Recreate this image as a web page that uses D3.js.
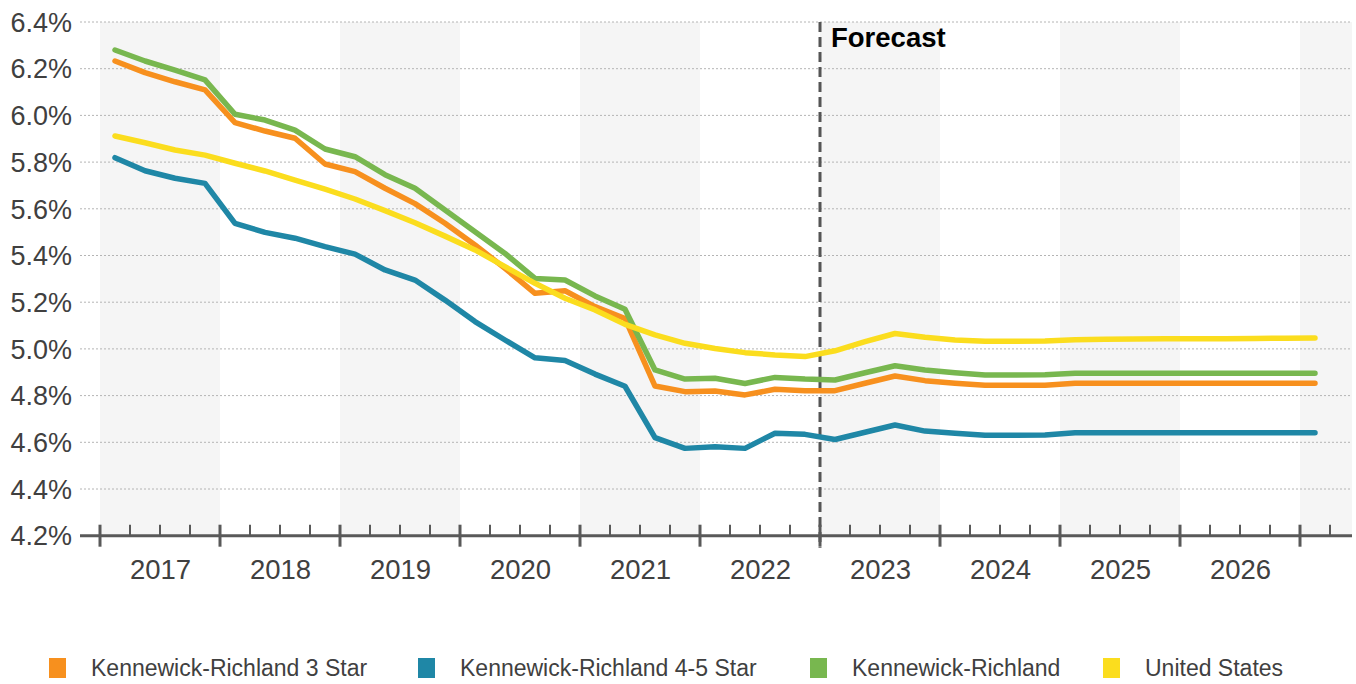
<!DOCTYPE html>
<html>
<head>
<meta charset="utf-8">
<script src="https://cdn.jsdelivr.net/npm/d3@7"></script>
<style>
  html, body { margin: 0; padding: 0; background: #fff; }
  svg { display: block; font-family: "Liberation Sans", Arial, sans-serif; }
</style>
</head>
<body>
<svg id="chart" width="1356" height="684"></svg>
<script>
// Quarterly cap rates, 2017 Q1 – 2027 Q1 (forecast from 2023 Q1)
const quarters = [
  "2017 Q1","2017 Q2","2017 Q3","2017 Q4","2018 Q1","2018 Q2","2018 Q3","2018 Q4",
  "2019 Q1","2019 Q2","2019 Q3","2019 Q4","2020 Q1","2020 Q2","2020 Q3","2020 Q4",
  "2021 Q1","2021 Q2","2021 Q3","2021 Q4","2022 Q1","2022 Q2","2022 Q3","2022 Q4",
  "2023 Q1","2023 Q2","2023 Q3","2023 Q4","2024 Q1","2024 Q2","2024 Q3","2024 Q4",
  "2025 Q1","2025 Q2","2025 Q3","2025 Q4","2026 Q1","2026 Q2","2026 Q3","2026 Q4",
  "2027 Q1"
];

const kr3Star = [
  6.233, 6.183, 6.144, 6.109, 5.969, 5.933, 5.902, 5.792,
  5.759, 5.688, 5.622, 5.538, 5.445, 5.345, 5.238, 5.249,
  5.181, 5.130, 4.841, 4.817, 4.820, 4.803, 4.827, 4.821,
  4.821, 4.853, 4.884, 4.864, 4.853, 4.844, 4.844, 4.844,
  4.853, 4.853, 4.853, 4.853, 4.853, 4.853, 4.853, 4.853,
  4.853
];

const kr45Star = [
  5.819, 5.763, 5.731, 5.709, 5.538, 5.499, 5.474, 5.438,
  5.406, 5.338, 5.295, 5.209, 5.117, 5.038, 4.962, 4.950,
  4.892, 4.840, 4.620, 4.574, 4.581, 4.574, 4.639, 4.634,
  4.612, 4.643, 4.674, 4.648, 4.639, 4.630, 4.630, 4.631,
  4.641, 4.641, 4.641, 4.641, 4.641, 4.641, 4.641, 4.641,
  4.641
];

const krAll = [
  6.280, 6.233, 6.194, 6.152, 6.005, 5.980, 5.937, 5.856,
  5.823, 5.746, 5.688, 5.595, 5.502, 5.409, 5.302, 5.295,
  5.227, 5.170, 4.910, 4.871, 4.874, 4.852, 4.878, 4.871,
  4.867, 4.898, 4.928, 4.910, 4.898, 4.888, 4.888, 4.889,
  4.896, 4.896, 4.896, 4.896, 4.896, 4.896, 4.896, 4.896,
  4.896
];

const unitedStates = [
  5.912, 5.883, 5.852, 5.830, 5.795, 5.762, 5.723, 5.684,
  5.642, 5.592, 5.540, 5.483, 5.424, 5.352, 5.281, 5.217,
  5.167, 5.105, 5.060, 5.024, 5.002, 4.984, 4.974, 4.967,
  4.992, 5.031, 5.066, 5.050, 5.038, 5.033, 5.033, 5.034,
  5.039, 5.041, 5.042, 5.043, 5.043, 5.044, 5.045, 5.046,
  5.047
];

const years = [2017, 2018, 2019, 2020, 2021, 2022, 2023, 2024, 2025, 2026, 2027];
const yearLabels = ["2017", "2018", "2019", "2020", "2021", "2022", "2023", "2024", "2025", "2026"];
const yTicks = [4.2, 4.4, 4.6, 4.8, 5.0, 5.2, 5.4, 5.6, 5.8, 6.0, 6.2, 6.4];
const forecastStart = "2023 Q1";

const series = [
  { name: "Kennewick-Richland 3 Star",   values: kr3Star,      color: "#f7901e" },
  { name: "Kennewick-Richland 4-5 Star", values: kr45Star,     color: "#1f87a6" },
  { name: "Kennewick-Richland",          values: krAll,        color: "#78b74f" },
  { name: "United States",               values: unitedStates, color: "#fbdd1e" }
];

// quarter label -> fractional year (mid-quarter / start of quarter)
const qTime = q => {
  const [y, p] = q.split(" Q");
  return +y + (+p - 0.5) / 4;
};
const qStart = q => {
  const [y, p] = q.split(" Q");
  return +y + (+p - 1) / 4;
};

const svg = d3.select("#chart");

const x = d3.scaleLinear().domain([2017, 2027]).range([100, 1300]);
const y = d3.scaleLinear().domain([4.2, 6.4]).range([535.7, 22]);

const plotLeft = 80, plotRight = 1352;

// alternating year bands
svg.append("g")
  .selectAll("rect")
  .data(years.filter((d, i) => i % 2 === 0))
  .join("rect")
  .attr("x", d => x(d))
  .attr("y", y(6.4))
  .attr("width", d => Math.min(x(d + 1), plotRight) - x(d))
  .attr("height", y(4.2) - y(6.4))
  .attr("fill", "#f5f5f5");

// dotted gridlines
svg.append("g")
  .selectAll("line")
  .data(yTicks.slice(1))
  .join("line")
  .attr("x1", plotLeft).attr("x2", plotRight)
  .attr("y1", d => y(d)).attr("y2", d => y(d))
  .attr("stroke", "#b4b4b4")
  .attr("stroke-width", 1)
  .attr("stroke-dasharray", "2,2");

// y labels
svg.append("g")
  .selectAll("text")
  .data(yTicks)
  .join("text")
  .attr("x", 72)
  .attr("y", d => y(d))
  .attr("dy", "0.36em")
  .attr("text-anchor", "end")
  .attr("font-size", 27)
  .attr("fill", "#404040")
  .text(d => d.toFixed(1) + "%");

// forecast divider
const fx = x(qStart(forecastStart));
svg.append("line")
  .attr("x1", fx).attr("x2", fx)
  .attr("y1", y(6.4)).attr("y2", y(4.2) + 12)
  .attr("stroke", "#555")
  .attr("stroke-width", 3)
  .attr("stroke-dasharray", "10,5");

svg.append("text")
  .attr("x", fx + 11)
  .attr("y", 47)
  .attr("font-size", 27.5)
  .attr("font-weight", "bold")
  .attr("fill", "#000")
  .text("Forecast");

// series lines
const line = d3.line()
  .x((d, i) => x(qTime(quarters[i])))
  .y(d => y(d));

svg.append("g")
  .selectAll("path")
  .data(series)
  .join("path")
  .attr("d", d => line(d.values))
  .attr("fill", "none")
  .attr("stroke", d => d.color)
  .attr("stroke-width", 5.5)
  .attr("stroke-linejoin", "round")
  .attr("stroke-linecap", "round");

// x axis
const axisY = y(4.2);
const axisG = svg.append("g");
axisG.append("line")
  .attr("x1", plotLeft).attr("x2", plotRight)
  .attr("y1", axisY).attr("y2", axisY)
  .attr("stroke", "#595959")
  .attr("stroke-width", 3);

const minorTicks = d3.range(0, 42).map(i => 2017 + i / 4).filter(t => t % 1 !== 0 && x(t) < plotRight);
axisG.selectAll("line.minor")
  .data(minorTicks)
  .join("line")
  .attr("class", "minor")
  .attr("x1", d => x(d)).attr("x2", d => x(d))
  .attr("y1", axisY - 11).attr("y2", axisY)
  .attr("stroke", "#595959")
  .attr("stroke-width", 2);

axisG.selectAll("line.major")
  .data(years)
  .join("line")
  .attr("class", "major")
  .attr("x1", d => x(d)).attr("x2", d => x(d))
  .attr("y1", axisY - 11).attr("y2", axisY + 11)
  .attr("stroke", "#595959")
  .attr("stroke-width", 3);

const labelAxis = d3.axisBottom(x)
  .tickValues(yearLabels.map(d => +d + 0.5))
  .tickFormat(d => String(Math.floor(d)))
  .tickSize(0)
  .tickPadding(0);

svg.append("g")
  .attr("transform", `translate(0,${axisY})`)
  .call(labelAxis)
  .call(g => g.select(".domain").remove())
  .call(g => g.selectAll("text")
    .attr("y", 43)
    .attr("dy", 0)
    .attr("font-size", 27.5)
    .attr("font-family", "\"Liberation Sans\", Arial, sans-serif")
    .attr("fill", "#404040"));

// legend
const legendX = [49, 418, 810, 1103];
const legend = svg.append("g")
  .selectAll("g")
  .data(series)
  .join("g")
  .attr("transform", (d, i) => `translate(${legendX[i]},658)`);

legend.append("rect")
  .attr("width", 17).attr("height", 20)
  .attr("fill", d => d.color);

legend.append("text")
  .attr("x", 42)
  .attr("y", 18)
  .attr("font-size", 23)
  .attr("fill", "#404040")
  .text(d => d.name);
</script>
</body>
</html>
